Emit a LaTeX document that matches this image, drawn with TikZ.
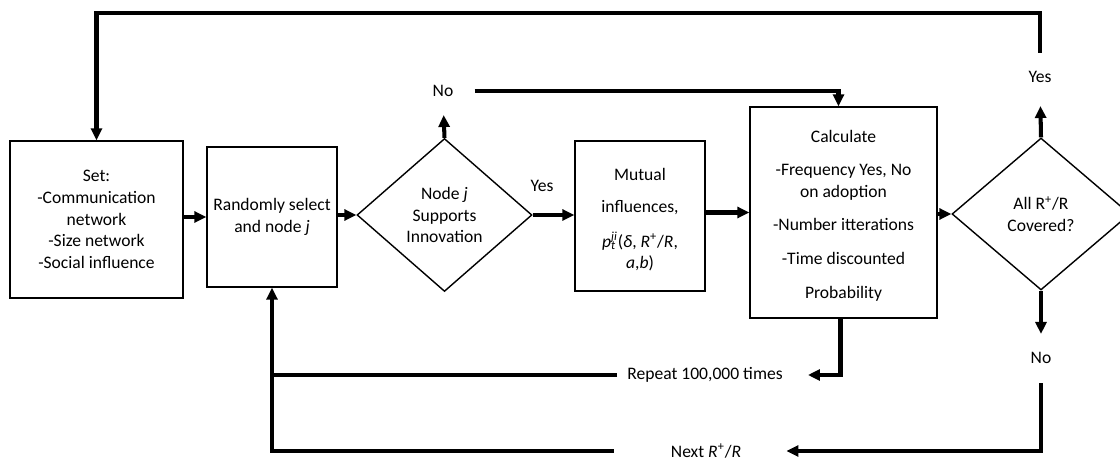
\documentclass[tikz,border=0pt]{standalone}
\usepackage{fontspec}
\setmainfont{Carlito}
\usetikzlibrary{shapes.geometric,arrows.meta}
\begin{document}
\begin{tikzpicture}[x=0.02cm,y=-0.02cm,
  txt/.style={font=\fontsize{10}{12.3}\selectfont},
  box/.style={txt,draw,line width=0.8pt,align=center,inner sep=0pt},
  dia/.style={txt,draw,diamond,line width=0.8pt,align=center,inner sep=0pt},
  lbl/.style={txt,inner sep=0pt},
  wire/.style={line width=2.3pt},
  flow/.style={wire,-{Triangle[length=0.24cm,width=0.22cm]}}]
\useasboundingbox (0,0) rectangle (1120,459);
\clip (0,0) rectangle (1120,459);

\node[box,minimum width=3.46cm,minimum height=3.14cm] (b1) at (96.5,219.5)
  {Set:\\-Communication\\network\\-Size network\\-Social influence};
\node[box,minimum width=2.6cm,minimum height=2.8cm] (b2) at (272,217)
  {Randomly select\\and node \textit{j}};
\node[dia,minimum width=3.5cm,minimum height=3.06cm] (d1) at (444.5,215)
  {Node \textit{j}\\Supports\\Innovation};
\node[box,minimum width=2.6cm,minimum height=3.0cm] (b3) at (640,216)
  {\rule{0pt}{0.4cm}Mutual\\[0.2cm]influences,\\[0.26cm]\textit{p}\rlap{\textsubscript{\textit{t}}}\textsuperscript{\textit{ji}}(\textit{δ}, \textit{R}\textsuperscript{+}/\textit{R},\\\textit{a},\textit{b})};
\node[box,minimum width=3.74cm,minimum height=4.22cm] (b4) at (843.5,212.5)
  {\rule{0pt}{0.36cm}Calculate\\[0.24cm]-Frequency Yes, No\\on adoption\\[0.24cm]-Number itterations\\[0.24cm]-Time discounted\\[0.24cm]Probability};
\node[dia,minimum width=3.56cm,minimum height=3.04cm] (d2) at (1041,214)
  {All R\textsuperscript{+}/R\\Covered?};

\node[lbl] (no1) at (443,91) {No};
\node[lbl] (yes1) at (542,186) {Yes};
\node[lbl] (yes2) at (1040,77) {Yes};
\node[lbl] (no2) at (1041,358) {No};
\node[lbl] (rep) at (705,375) {Repeat 100,000 times};
\node[lbl] (next) at (706,451) {Next \textit{R}\textsuperscript{+}/\textit{R}};
\coordinate (top) at (0,13);

\draw[flow] (b1.east |- b2) -- (b2.west);
\draw[flow] (b2.east |- d1) -- (d1.west);
\draw[flow] (d1.east) -- (d1.east -| b3.west);
\draw[flow] (b3.east |- b4) -- (b4.west);
\draw[flow] (b4.east |- d2) -- (d2.west);

\draw[flow,shorten >=0.36cm] (d1.north) -- (no1.south);
\draw[flow,shorten <=0.42cm] (no1.east) -| ([xshift=-0.1cm]b4.north);
\draw[flow,shorten >=0.46cm] (d2.north) -- (yes2.south);
\draw[flow,shorten <=0.36cm] (yes2.north) -- (yes2.north |- top) -| (b1.north);
\draw[flow,shorten >=0.36cm] (d2.south) -- (no2.north);
\draw[flow,shorten <=0.38cm,shorten >=0.9cm] (no2.south) |- (next.east);
\draw[flow,shorten >=0.5cm] ([xshift=-0.06cm]b4.south) |- (rep.east);
\draw[wire,shorten <=0.2cm] (rep.west) -- (rep.west -| b2.south);
\draw[flow,shorten <=1.14cm] (next.west) -| (b2.south);
\end{tikzpicture}
\end{document}
